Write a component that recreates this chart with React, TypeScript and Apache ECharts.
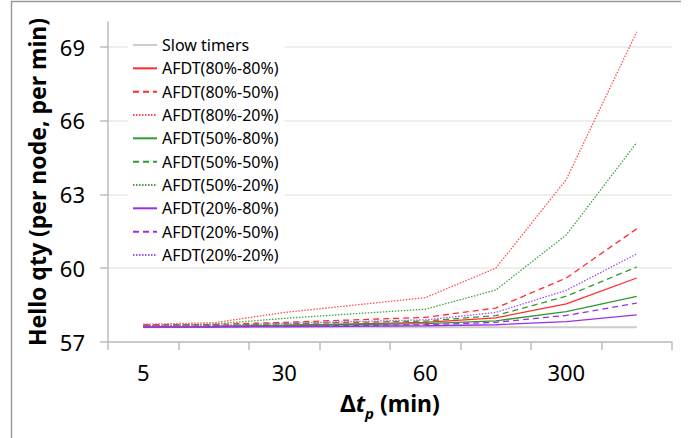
import React, { useEffect, useRef } from "react";
import * as echarts from "echarts";

const categories = ["5", "", "30", "", "60", "", "300", ""];
const yTicks = [57, 60, 63, 66, 69];

const slowTimers = [57.6, 57.6, 57.6, 57.6, 57.6, 57.6, 57.6, 57.6];
const afdt80_80 = [57.62, 57.63, 57.68, 57.74, 57.8, 57.98, 58.55, 59.6];
const afdt80_50 = [57.7, 57.71, 57.8, 57.9, 58.0, 58.38, 59.6, 61.6];
const afdt80_20 = [57.72, 57.78, 58.2, 58.5, 58.8, 60.0, 63.6, 69.6];
const afdt50_80 = [57.62, 57.63, 57.67, 57.71, 57.75, 57.86, 58.23, 58.85];
const afdt50_50 = [57.65, 57.66, 57.74, 57.8, 57.85, 58.07, 58.86, 60.05];
const afdt50_20 = [57.66, 57.73, 57.96, 58.15, 58.33, 59.11, 61.35, 65.1];
const afdt20_80 = [57.61, 57.61, 57.62, 57.64, 57.66, 57.7, 57.83, 58.1];
const afdt20_50 = [57.61, 57.62, 57.64, 57.67, 57.7, 57.8, 58.08, 58.58];
const afdt20_20 = [57.66, 57.67, 57.76, 57.83, 57.9, 58.2, 59.1, 60.58];

const RED = "#ff2a2a";
const GREEN = "#2f9a2f";
const PURPLE = "#9a30e6";
const RED_DOT = "#ff4d4d";
const GREEN_DOT = "#3fa33f";
const PURPLE_DOT = "#a94ef0";
const DASH = [6, 4];
const DOT = [1.5, 1.5];

const FONT = "'Noto Sans', sans-serif";

export default function App() {
  const ref = useRef<HTMLDivElement>(null);
  useEffect(() => {
    document.body.style.margin = "0";
    if (!ref.current) return;
    const chart = echarts.init(ref.current, undefined, { renderer: "svg" });
    const mk = (name: string, data: number[], color: string, type: any, width = 1.3) => ({
      name,
      type: "line",
      data,
      symbol: "none",
      color,
      lineStyle: { color, width, type },
      z: 3,
    });
    chart.setOption({
      animation: false,
      backgroundColor: "#fff",
      textStyle: { fontFamily: FONT },
      graphic: [
        {
          type: "polyline",
          shape: { points: [[11.5, 470], [11.5, 1.5], [681, 1.5]] },
          style: { fill: "none", stroke: "#9a9a9a", lineWidth: 1.5 },
          silent: true,
        },
      ],
      grid: { left: 108, right: 24, top: 22, bottom: 96 },
      legend: {
        orient: "vertical",
        left: 128,
        top: 31,
        padding: [6, 6, 4, 4],
        backgroundColor: "#fff",
        itemWidth: 24,
        itemHeight: 16,
        itemGap: 7.33,
        itemStyle: { opacity: 0 },
        textStyle: { fontFamily: FONT, fontSize: 16, color: "#000", lineHeight: 16 },
        z: 10,
      },
      xAxis: {
        type: "category",
        data: categories,
        boundaryGap: true,
        axisLine: { lineStyle: { color: "#bdbdbd", width: 1.5 } },
        axisTick: { show: true, interval: 0, length: 8, lineStyle: { color: "#bdbdbd", width: 1.5 } },
        axisLabel: { interval: 0, margin: 19, fontSize: 22, color: "#000", fontFamily: FONT },
        splitLine: { show: false },
        name: "{d|Δ}{t|t}{p|p}{n| (min)}",
        nameLocation: "middle",
        nameGap: 44,
        nameTextStyle: {
          rich: {
            d: { fontSize: 23, fontWeight: "bold", fontFamily: FONT, color: "#000", lineHeight: 34, verticalAlign: "middle" },
            t: { fontSize: 23, fontWeight: "bold", fontStyle: "italic", fontFamily: FONT, color: "#000", lineHeight: 34, verticalAlign: "middle" },
            p: { fontSize: 15, fontWeight: "bold", fontStyle: "italic", fontFamily: FONT, color: "#000", lineHeight: 34, verticalAlign: "bottom" },
            n: { fontSize: 23, fontWeight: "bold", fontFamily: FONT, color: "#000", lineHeight: 34, verticalAlign: "middle" },
          },
        },
      },
      yAxis: {
        type: "value",
        min: 57,
        max: 70,
        interval: 3,
        axisLine: { show: true, lineStyle: { color: "#bdbdbd", width: 1.5 } },
        axisTick: { show: true, length: 8, customValues: yTicks, lineStyle: { color: "#bdbdbd", width: 1.5 } },
        axisLabel: { margin: 23, fontSize: 22, color: "#000", fontFamily: FONT, customValues: yTicks },
        splitLine: { show: true, lineStyle: { color: "#e8e8e8", width: 1.5 } },
        name: "Hello qty (per node, per min)",
        nameLocation: "middle",
        nameGap: 57,
        nameTextStyle: { fontSize: 23, fontWeight: "bold", color: "#000", fontFamily: FONT },
      },
      series: [
        mk("Slow timers", slowTimers, "#cccccc", "solid", 2.2),
        mk("AFDT(80%-80%)", afdt80_80, RED, "solid"),
        mk("AFDT(80%-50%)", afdt80_50, RED, DASH),
        mk("AFDT(80%-20%)", afdt80_20, RED_DOT, DOT),
        mk("AFDT(50%-80%)", afdt50_80, GREEN, "solid"),
        mk("AFDT(50%-50%)", afdt50_50, GREEN, DASH),
        mk("AFDT(50%-20%)", afdt50_20, GREEN_DOT, DOT),
        mk("AFDT(20%-80%)", afdt20_80, PURPLE, "solid"),
        mk("AFDT(20%-50%)", afdt20_50, PURPLE, DASH),
        mk("AFDT(20%-20%)", afdt20_20, PURPLE_DOT, DOT),
      ],
    });
    return () => chart.dispose();
  }, []);
  return <div ref={ref} style={{ width: 696, height: 438 }} />;
}
